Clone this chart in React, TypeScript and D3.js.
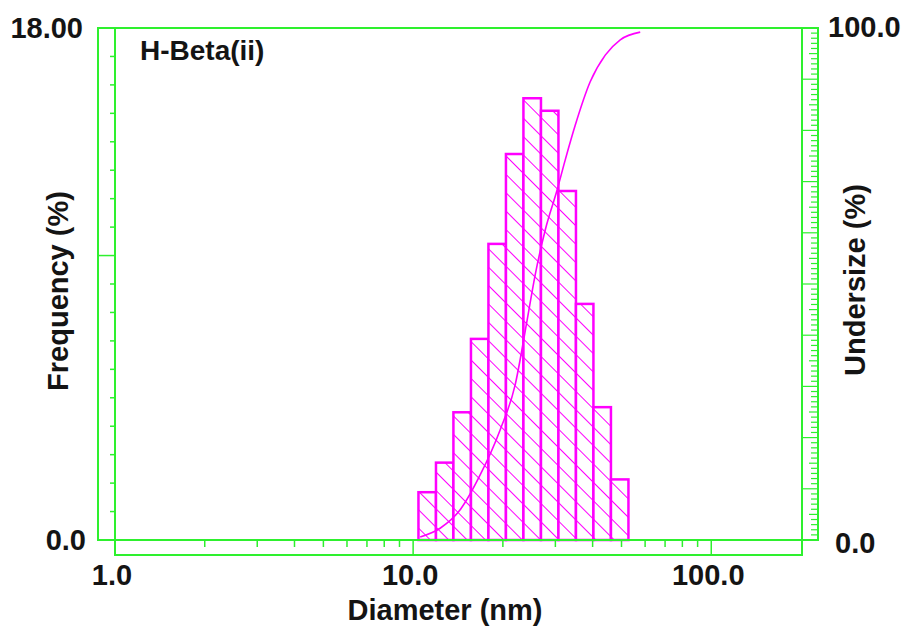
import React from 'react';
import * as d3 from 'd3';

// ---- data ----
const binEdges = [10.42, 11.93, 13.65, 15.63, 17.89, 20.48, 23.44, 26.84, 30.72, 35.17, 40.25, 46.08, 52.75];
const frequency = [1.68, 2.72, 4.49, 7.07, 10.41, 13.57, 15.53, 15.09, 12.27, 8.3, 4.67, 2.13];
const curveDiameter = [10.56, 12.32, 14.38, 16.78, 19.58, 21.99, 24.13, 25.67, 27.73, 30.42, 32.36, 34.97, 39.26, 44.1, 49.51, 57.77];
const curveUndersize = [0.6, 2.3, 5.9, 12.7, 21.5, 30.3, 43.0, 51.8, 60.5, 68.4, 74.2, 81.0, 89.5, 94.7, 97.7, 99.2];
const xMajorTicks = [1, 10, 100];
const xTickLabels = ['1.0', '10.0', '100.0'];
const xMinorTicks = [2, 3, 4, 5, 6, 7, 8, 9, 20, 30, 40, 50, 60, 70, 80, 90];
const leftTickLabels = ['0.0', '18.00'];
const rightTickLabels = ['0.0', '100.0'];
const title = 'H-Beta(ii)';
const xLabel = 'Diameter (nm)';
const yLeftLabel = 'Frequency (%)';
const yRightLabel = 'Undersize (%)';

const GREEN = '#2ef02e';
const MAG = '#ff00ff';
const TXT = '#141414';
const FONT = '"Liberation Sans", Arial, sans-serif';

export default function App() {
  const x = d3.scaleLog().domain([1, 200]).range([115, 801]);
  const yL = d3.scaleLinear().domain([0, 18]).range([540, 28]);
  const yR = d3.scaleLinear().domain([0, 100]).range([540, 28]);

  const leftTicks = d3.range(1, 18);
  const rightTicks = d3.range(1, 100);

  const curvePts: [number, number][] = curveDiameter.map((d, i) => [x(d), yR(curveUndersize[i])]);
  const linePath = d3.line().curve(d3.curveMonotoneX)(curvePts) || '';

  const textStyle = { fontFamily: FONT, fontWeight: 700, fontSize: 29, fill: TXT } as const;

  return (
    <svg width={907} height={630} style={{ position: 'absolute', left: 0, top: 0, background: '#fff' }}>
      <defs>
        <pattern id="hatch" patternUnits="userSpaceOnUse" width={13} height={13} patternTransform="rotate(-45)">
          <rect width={13} height={13} fill="#fff" />
          <line x1={0} y1={-2} x2={0} y2={15} stroke={MAG} strokeWidth={2} />
        </pattern>
      </defs>

      {/* bars */}
      {frequency.map((f, i) => (
        <rect
          key={i}
          x={x(binEdges[i])}
          y={yL(f)}
          width={x(binEdges[i + 1]) - x(binEdges[i])}
          height={yL(0) - yL(f)}
          fill="url(#hatch)"
          stroke={MAG}
          strokeWidth={2.5}
        />
      ))}

      {/* cumulative curve */}
      <path d={linePath} fill="none" stroke={MAG} strokeWidth={1.6} />

      {/* frames */}
      <rect x={98} y={28} width={818 - 98} height={540 - 28} fill="none" stroke={GREEN} strokeWidth={2} />
      <rect x={115} y={28} width={802 - 115} height={555 - 28} fill="none" stroke={GREEN} strokeWidth={2} />

      {/* left axis ticks */}
      {leftTicks.map((t) => (
        <line key={'l' + t} x1={t === 10 ? 98 : 110} x2={115} y1={yL(t)} y2={yL(t)} stroke={GREEN} strokeWidth={1.5} />
      ))}
      {/* right axis ticks */}
      {rightTicks.map((t) => (
        <line
          key={'r' + t}
          x1={t % 10 === 0 ? 802 : t % 5 === 0 ? 809 : 811}
          x2={818}
          y1={yR(t)}
          y2={yR(t)}
          stroke={GREEN}
          strokeWidth={1.2}
        />
      ))}
      {/* x ticks */}
      {xMinorTicks.map((t) => (
        <line key={'xm' + t} x1={x(t)} x2={x(t)} y1={540} y2={547} stroke={GREEN} strokeWidth={1.5} />
      ))}
      {xMajorTicks.map((t) => (
        <line key={'xM' + t} x1={x(t)} x2={x(t)} y1={540} y2={555} stroke={GREEN} strokeWidth={1.5} />
      ))}

      {/* tick labels */}
      <text x={83} y={38} textAnchor="end" style={textStyle}>{leftTickLabels[1]}</text>
      <text x={86} y={550} textAnchor="end" style={textStyle}>{leftTickLabels[0]}</text>
      <text x={828} y={37} style={textStyle}>{rightTickLabels[1]}</text>
      <text x={835} y={553} style={textStyle}>{rightTickLabels[0]}</text>
      {xMajorTicks.map((t, i) => (
        <text key={'xl' + t} x={x(t) - 3} y={585} textAnchor="middle" style={textStyle}>{xTickLabels[i]}</text>
      ))}

      {/* titles */}
      <text x={140} y={60} style={{ ...textStyle, fontSize: 28 }}>{title}</text>
      <text x={445} y={620} textAnchor="middle" style={textStyle}>{xLabel}</text>
      <text transform="translate(68,291) rotate(-90)" textAnchor="middle" style={textStyle}>{yLeftLabel}</text>
      <text transform="translate(865,280) rotate(-90)" textAnchor="middle" style={textStyle}>{yRightLabel}</text>
    </svg>
  );
}
